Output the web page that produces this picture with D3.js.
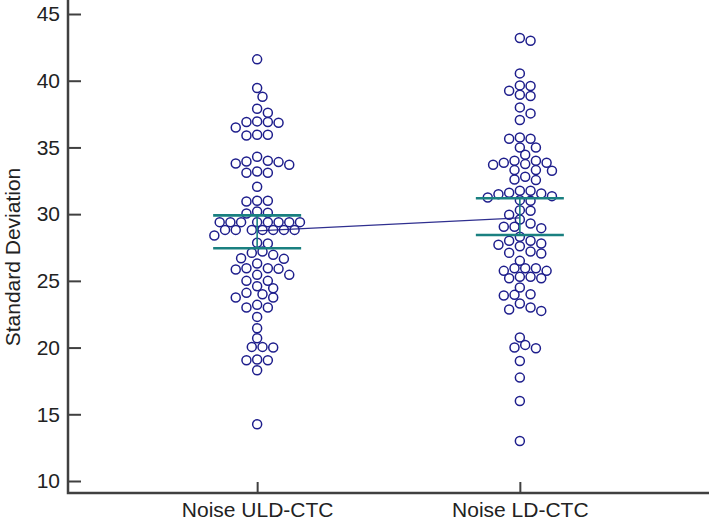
<!DOCTYPE html>
<html>
<head>
<meta charset="utf-8">
<script src="https://cdn.jsdelivr.net/npm/d3@7/dist/d3.min.js"></script>
<style>
  html, body { margin: 0; padding: 0; background: #fff; }
  svg { display: block; }
  text { font-family: 'Liberation Sans', Arial, sans-serif; fill: #222; }
</style>
</head>
<body>
<div id="dotplot"></div>
<script>
// Group labels
var categories = ['Noise ULD-CTC', 'Noise LD-CTC'];

// Standard deviation per case
var uldValues = [
  41.6, 39.45, 38.8, 37.9, 37.6,
  36.95, 36.9, 36.85, 36.9, 36.5,
  35.95, 35.95, 35.9,
  34.3, 34.0, 33.95, 33.9, 33.8, 33.7,
  33.1, 33.1, 33.2, 32.05,
  31.0, 30.95, 31.0,
  30.1, 30.2, 30.05,
  29.4, 29.4, 29.4, 29.4, 29.4, 29.4, 29.4, 29.4,
  28.82, 28.82, 28.82, 28.82, 28.82, 28.82, 28.82,
  28.4, 27.85, 27.8,
  27.2, 27.1, 26.95, 26.65, 26.7, 26.3,
  25.9, 25.85, 25.95, 25.95, 25.45, 25.45, 25.0, 25.0,
  24.45, 24.6, 24.1, 24.0, 23.75, 23.75,
  23.0, 23.0, 23.2, 22.3, 21.45, 20.7,
  20.0, 20.05, 20.05, 19.05, 19.1, 19.05, 18.3, 14.25
];
var ldValues = [
  43.0, 43.2, 40.55, 39.6, 39.65,
  38.85, 38.95, 39.25, 38.0, 37.55, 37.05,
  35.65, 35.65, 35.75, 35.0, 35.0, 34.45,
  33.75, 33.7, 33.85, 33.85, 34.0, 34.0,
  33.25, 33.3, 33.3, 32.55, 32.6, 32.8,
  31.55, 31.5, 31.6, 31.75, 31.75,
  31.05, 31.0, 31.25, 31.35,
  30.25, 30.3, 29.95, 29.6,
  28.95, 29.05, 29.05, 29.3, 28.3,
  27.6, 27.7, 27.8, 28.0, 28.0,
  27.05, 27.1, 27.2, 26.5,
  25.75, 25.75, 25.95, 25.95, 25.95,
  25.2, 25.2, 25.3, 25.3, 24.5,
  23.9, 23.95, 24.0, 23.3, 22.75, 22.85, 23.0,
  20.75, 19.95, 20.0, 20.2, 19.0, 17.75, 16.0, 13.0
];

// Median and its confidence interval per group
var medians = [28.75, 29.72];
var ciLow = [27.44, 28.44];
var ciHigh = [29.91, 31.19];

var yTicks = [10, 15, 20, 25, 30, 35, 40, 45];

(function createDotPlot() {
  'use strict';
  var width = 709,
      height = 520,
      axisX = 68,
      axisY = 493,
      pointRadius = 4.5,
      ciHalfWidth = 44;

  var svg = d3.select('#dotplot').append('svg')
    .attr('width', width)
    .attr('height', height);

  var x = d3.scalePoint().domain(categories).range([axisX, width]).padding(0.72);
  var y = d3.scaleLinear().domain([10, 45]).range([481, 14]);

  // Simple greedy beeswarm: push points sideways until they stop colliding
  function swarm(values, cx) {
    var placed = [],
        step = 5.35,
        minDist = 8.8;
    var sorted = values.slice().sort(d3.descending);
    sorted.forEach(function(v) {
      var cy = y(v);
      for (var k = 0; k < 40; k += 1) {
        var off = Math.ceil(k / 2) * step * (k % 2 === 0 ? -1 : 1);
        var hit = placed.some(function(p) {
          var dx = p.x - (cx + off), dy = p.y - cy;
          return Math.sqrt(dx * dx + dy * dy) < minDist;
        });
        if (!hit) {
          placed.push({x: cx + off, y: cy, v: v});
          break;
        }
      }
    });
    return placed;
  }

  // Line joining the medians
  svg.append('line')
    .attr('x1', x(categories[0])).attr('y1', y(medians[0]))
    .attr('x2', x(categories[1])).attr('y2', y(medians[1]))
    .attr('stroke', '#2f2f8f')
    .attr('stroke-width', 1.3);

  // Points
  [uldValues, ldValues].forEach(function(vals, i) {
    svg.append('g')
      .selectAll('circle')
      .data(swarm(vals, x(categories[i])))
      .enter().append('circle')
        .attr('cx', function(d) { return d.x; })
        .attr('cy', function(d) { return d.y; })
        .attr('r', pointRadius)
        .attr('fill', 'none')
        .attr('stroke', '#1e1e8c')
        .attr('stroke-width', 1.5);
  });

  // Confidence interval of the median
  var ci = svg.append('g').attr('stroke', '#1a8080');
  categories.forEach(function(c, i) {
    var cx = x(c);
    [ciLow[i], ciHigh[i]].forEach(function(v) {
      ci.append('line')
        .attr('x1', cx - ciHalfWidth).attr('x2', cx + ciHalfWidth)
        .attr('y1', y(v)).attr('y2', y(v))
        .attr('stroke-width', 2.6);
    });
    ci.append('line')
      .attr('x1', cx).attr('x2', cx)
      .attr('y1', y(ciLow[i])).attr('y2', y(ciHigh[i]))
      .attr('stroke-width', 1.6);
  });

  // Axes, ticks pointing inward
  var yAxis = svg.append('g')
    .attr('transform', 'translate(' + axisX + ',0)')
    .call(d3.axisLeft(y).tickValues(yTicks).tickSizeInner(-13).tickSizeOuter(0).tickPadding(8));
  var xAxis = svg.append('g')
    .attr('transform', 'translate(0,' + axisY + ')')
    .call(d3.axisBottom(x).tickSizeInner(-11).tickSizeOuter(0).tickPadding(9));

  [yAxis, xAxis].forEach(function(a) {
    a.select('.domain').remove();
    a.selectAll('.tick line').attr('stroke', '#404040').attr('stroke-width', 2);
    a.selectAll('.tick text')
      .style('font-family', "'Liberation Sans', Arial, sans-serif")
      .style('font-size', '21px')
      .attr('fill', '#222');
  });

  svg.append('path')
    .attr('d', 'M' + axisX + ',0V' + axisY + 'H' + width)
    .attr('fill', 'none')
    .attr('stroke', '#404040')
    .attr('stroke-width', 2.5);

  // Y axis title
  svg.append('text')
    .attr('transform', 'translate(20,257) rotate(-90)')
    .attr('text-anchor', 'middle')
    .style('font-size', '21px')
    .text('Standard Deviation');
}());
</script>
</body>
</html>
